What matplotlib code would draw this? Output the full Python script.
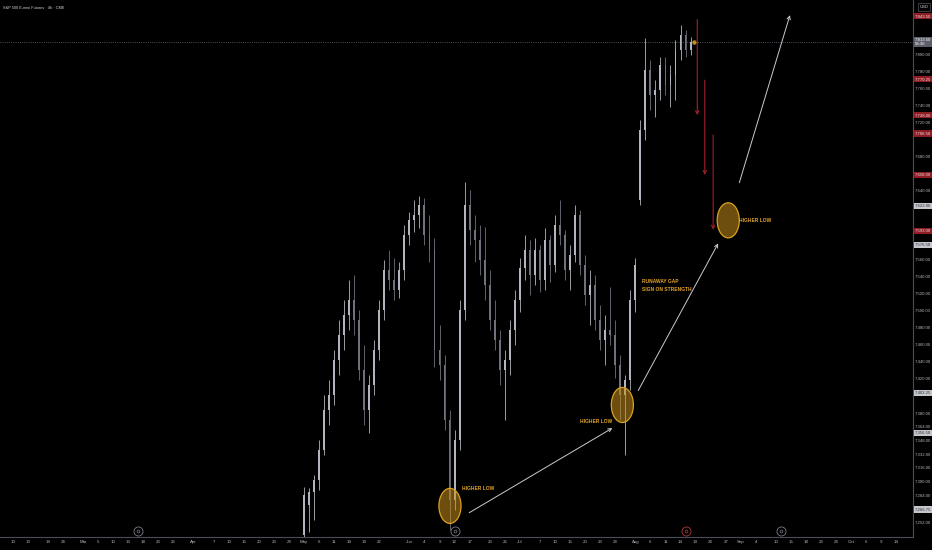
import numpy as np
import pandas as pd
import matplotlib
matplotlib.use('Agg')
import matplotlib.pyplot as plt
from matplotlib.patches import Ellipse
from matplotlib.transforms import blended_transform_factory

# ---------------- data (daily bars) ----------------
origin_date = '2026-03-02'
first_bar_date = '2026-05-01'
opens = [7237.0, 7272.0, 7287.25, 7301.25, 7336.5, 7383.25, 7400.75, 7441.5, 7471.0, 7494.25,
         7512.0, 7488.5, 7430.0, 7383.25, 7412.5, 7453.25, 7500.0, 7547.0, 7535.25, 7523.5,
         7547.0, 7587.75, 7605.5, 7611.25, 7623.0, 7587.75, 7570.25, 7453.25, 7435.75, 7371.5,
         7278.0, 7348.0, 7500.0, 7623.0, 7593.75, 7582.0, 7558.5, 7529.5, 7488.5, 7465.0,
         7430.0, 7441.5, 7476.75, 7512.0, 7549.25, 7570.25, 7541.0, 7570.25, 7535.25, 7582.0,
         7552.75, 7599.5, 7587.75, 7547.0, 7564.5, 7611.25, 7552.75, 7517.75, 7529.5, 7488.5,
         7465.0, 7476.75, 7471.0, 7435.75, 7400.75, 7418.25, 7512.0, 7628.75, 7710.75, 7780.75,
         7751.5, 7757.5, 7786.75, 7763.25, 7775.0, 7804.25, 7821.75, 7804.25]
highs = [7293.0, 7292.0, 7307.0, 7348.0, 7400.75, 7418.25, 7453.25, 7488.5, 7512.0, 7535.25,
         7541.0, 7500.0, 7459.25, 7424.0, 7465.0, 7512.0, 7558.5, 7570.25, 7561.0, 7556.25,
         7599.5, 7614.75, 7628.75, 7633.5, 7631.0, 7611.25, 7584.5, 7482.5, 7447.5, 7383.25,
         7359.75, 7512.0, 7649.75, 7640.5, 7611.25, 7599.5, 7597.25, 7547.0, 7512.0, 7476.75,
         7453.25, 7488.5, 7523.5, 7561.0, 7587.75, 7582.0, 7584.5, 7576.25, 7596.0, 7587.75,
         7611.25, 7628.75, 7593.75, 7576.25, 7623.0, 7617.0, 7564.5, 7547.0, 7541.0, 7506.0,
         7494.25, 7527.0, 7488.5, 7447.5, 7424.0, 7523.5, 7561.0, 7722.25, 7818.25, 7792.5,
         7769.0, 7796.0, 7796.0, 7786.75, 7816.0, 7833.5, 7827.5, 7819.5]
lows = [7225.25, 7240.5, 7254.5, 7289.5, 7330.5, 7365.5, 7389.0, 7424.0, 7453.25, 7476.75,
        7471.0, 7418.25, 7365.5, 7356.25, 7400.75, 7441.5, 7488.5, 7523.5, 7512.0, 7514.25,
        7535.25, 7576.25, 7591.5, 7596.0, 7576.25, 7556.25, 7433.5, 7418.25, 7359.75, 7242.75,
        7266.25, 7336.5, 7488.5, 7576.25, 7556.25, 7541.0, 7512.0, 7476.75, 7453.25, 7412.5,
        7371.5, 7424.0, 7459.25, 7497.75, 7535.25, 7517.75, 7529.5, 7521.25, 7523.5, 7533.0,
        7544.5, 7576.25, 7535.25, 7523.5, 7556.25, 7541.0, 7506.0, 7482.5, 7476.75, 7453.25,
        7435.75, 7459.25, 7420.5, 7371.5, 7330.5, 7406.5, 7497.75, 7623.0, 7699.0, 7734.0,
        7725.75, 7745.75, 7751.5, 7737.5, 7745.75, 7792.5, 7796.0, 7798.5]
closes = [7283.75, 7287.25, 7301.25, 7336.5, 7383.25, 7400.75, 7441.5, 7471.0, 7494.25, 7512.0,
          7488.5, 7430.0, 7383.25, 7412.5, 7453.25, 7500.0, 7547.0, 7535.25, 7523.5, 7547.0,
          7587.75, 7605.5, 7611.25, 7623.0, 7587.75, 7570.25, 7453.25, 7435.75, 7371.5, 7278.0,
          7348.0, 7500.0, 7623.0, 7593.75, 7582.0, 7558.5, 7529.5, 7488.5, 7465.0, 7430.0,
          7441.5, 7476.75, 7512.0, 7549.25, 7570.25, 7541.0, 7570.25, 7535.25, 7582.0, 7552.75,
          7599.5, 7587.75, 7547.0, 7564.5, 7611.25, 7552.75, 7517.75, 7529.5, 7488.5, 7465.0,
          7476.75, 7471.0, 7435.75, 7400.75, 7418.25, 7512.0, 7552.75, 7710.75, 7780.75, 7751.5,
          7757.5, 7786.75, 7763.25, 7775.0, 7804.25, 7821.75, 7804.25, 7813.5]

tick_dates = ['2026-02-10', '2026-02-13', '2026-02-19', '2026-02-24', '2026-03-02', '2026-03-05',
              '2026-03-10', '2026-03-13', '2026-03-18', '2026-03-23', '2026-03-26', '2026-04-01',
              '2026-04-07', '2026-04-10', '2026-04-15', '2026-04-20', '2026-04-23', '2026-04-28',
              '2026-05-01', '2026-05-06', '2026-05-11', '2026-05-14', '2026-05-19', '2026-05-22',
              '2026-06-01', '2026-06-04', '2026-06-09', '2026-06-12', '2026-06-17', '2026-06-23',
              '2026-06-26', '2026-07-01', '2026-07-07', '2026-07-10', '2026-07-15', '2026-07-20',
              '2026-07-23', '2026-07-28', '2026-08-03', '2026-08-06', '2026-08-11', '2026-08-14',
              '2026-08-19', '2026-08-24', '2026-08-27', '2026-09-01', '2026-09-04', '2026-09-10',
              '2026-09-15', '2026-09-18', '2026-09-23', '2026-09-28', '2026-10-01', '2026-10-06',
              '2026-10-09', '2026-10-14']
month_starts = {'2026-03-02': 'Mar', '2026-04-01': 'Apr', '2026-05-01': 'May', '2026-06-01': 'Jun',
                '2026-07-01': 'Jul', '2026-08-03': 'Aug', '2026-09-01': 'Sep', '2026-10-01': 'Oct'}

price_ticks = [7840, 7820, 7800, 7780, 7760, 7740, 7720, 7700, 7680, 7660, 7640, 7620, 7600,
               7580, 7560, 7540, 7520, 7500, 7480, 7460, 7440, 7420, 7400, 7380,
               7364, 7348, 7332, 7316, 7300, 7284, 7268, 7252]
red_levels = [7843.50, 7770.25, 7728.00, 7706.50, 7658.00, 7593.00]
grey_levels = [7622.00, 7576.50, 7403.25, 7356.50, 7266.75]
countdown = '58:30'
event_dates = ['2026-03-17', '2026-06-12', '2026-08-17', '2026-09-11']

# drawings (date/time, price)
ellipse_times = ['2026-06-11 02:00', '2026-07-29 10:00', '2026-08-27 12:00']
ellipse_prices = [7271.0, 7389.0, 7605.0]
hl_text_times = ['2026-06-15 12:00', '2026-07-27 10:00', '2026-08-31 14:00']
hl_text_prices = [7291.0, 7370.0, 7605.0]
arrow_from_times = ['2026-06-16 22:00', '2026-08-03 14:00', '2026-08-31 17:00']
arrow_from_prices = [7263.0, 7406.0, 7649.0]
arrow_to_times = ['2026-07-27 10:00', '2026-08-25 12:00', '2026-09-14 19:00']
arrow_to_prices = [7362.0, 7578.0, 7845.0]
red_arrow_times = ['2026-08-19 08:00', '2026-08-20 20:00', '2026-08-24 12:00']
red_arrow_top = [7840.0, 7769.0, 7705.0]
red_arrow_bottom = [7728.0, 7658.0, 7594.0]
gap_text_time = '2026-08-04 10:00'
gap_text_prices = [7534.0, 7524.0]

# ---------------- helpers ----------------
def bidx(d):
    t = pd.Timestamp(d)
    n = np.busday_count(np.datetime64(origin_date), np.datetime64(t.strftime('%Y-%m-%d')))
    return n + (t.hour + t.minute / 60) / 24

dates = pd.bdate_range(first_bar_date, periods=len(opens))
x = np.array([bidx(d) for d in dates])
o, h, l, c = map(np.array, (opens, highs, lows, closes))

plt.rcParams['font.family'] = ['Liberation Sans', 'DejaVu Sans']

W, H = 932, 550
fig = plt.figure(figsize=(W / 100, H / 100), dpi=100, facecolor='black')
ax = fig.add_axes([0, 13 / H, 913 / W, 537 / H])
ax.set_facecolor('black')
ax.set_xlim(-16.53, 165.3)
ax.set_ylim(7234.6, 7862.7)

up_col, dn_col = '#b2b5be', '#6f727d'
cols = np.where(c >= o, up_col, dn_col)
ax.vlines(x, l, h, colors=cols, lw=0.6, zorder=3)
body = np.maximum(np.abs(c - o), 0.8)
ax.bar(x, body, bottom=np.minimum(o, c), width=0.38, color=cols, linewidth=0, zorder=3)

# current price line and marker
ax.axhline(closes[-1], color='#6a6d78', lw=0.6, ls=(0, (1, 1.6)), zorder=2)
ax.plot([x[-1] + 0.7], [closes[-1]], marker='o', ms=2.8, mfc='#c8961e', mec='#8a6a18', mew=0.5, zorder=5)

# ellipses + labels
gold = '#e3a52a'
tfont = dict(color=gold, fontsize=3.5, fontweight='bold', va='center', zorder=6)
for t, p in zip(ellipse_times, ellipse_prices):
    ax.add_patch(Ellipse((bidx(t), p), 4.4, 41, fc=(0.78, 0.56, 0.1, 0.55), ec='#d9a21f', lw=0.9, zorder=4))
for i, (t, p) in enumerate(zip(hl_text_times, hl_text_prices)):
    ax.text(bidx(t), p, 'HIGHER LOW', ha='right' if i == 1 else 'left', **tfont)
ax.text(bidx(gap_text_time), gap_text_prices[0], 'RUNAWAY GAP', ha='left', **tfont)
ax.text(bidx(gap_text_time), gap_text_prices[1], 'SIGN ON STRENGTH', ha='left', **tfont)

for t0, p0, t1, p1 in zip(arrow_from_times, arrow_from_prices, arrow_to_times, arrow_to_prices):
    ax.annotate('', xy=(bidx(t1), p1), xytext=(bidx(t0), p0),
                arrowprops=dict(arrowstyle='->', color='#c9cbd1', lw=0.7, shrinkA=0, shrinkB=0,
                                mutation_scale=6), zorder=6)
for t, p0, p1 in zip(red_arrow_times, red_arrow_top, red_arrow_bottom):
    ax.annotate('', xy=(bidx(t), p1), xytext=(bidx(t), p0),
                arrowprops=dict(arrowstyle='->', color='#a3202a', lw=0.8, shrinkA=0, shrinkB=0,
                                mutation_scale=6), zorder=6)

# event markers on time axis
blend_xa = blended_transform_factory(ax.transData, ax.transAxes)
for k, d in enumerate(event_dates):
    ec = '#b23a3a' if k == 2 else '#787b86'
    ax.plot([bidx(d)], [0.012], marker='o', ms=6.5, mfc='black', mec=ec, mew=0.6,
            transform=blend_xa, clip_on=False, zorder=7)
    ax.plot([bidx(d)], [0.012], marker='o', ms=2.0, mfc='none', mec=ec, mew=0.5,
            transform=blend_xa, clip_on=False, zorder=7)

# axes
for s in ['top', 'left']:
    ax.spines[s].set_visible(False)
for s in ['bottom', 'right']:
    ax.spines[s].set_color('#4a4d57')
    ax.spines[s].set_linewidth(0.8)

tx = [bidx(d) for d in tick_dates]
tl = [month_starts.get(d, str(int(d[-2:]))) for d in tick_dates]
ax.set_xticks(tx)
ax.set_xticklabels(tl)
ax.tick_params(axis='x', length=0, pad=2.4, labelsize=3.2, colors='#b2b5be')

box_levels = red_levels + grey_levels
shown_ticks = [v for v in price_ticks
               if min(abs(v - b) for b in box_levels) > 7 and abs(v - closes[-1]) > 9]
ax.yaxis.tick_right()
ax.set_yticks(shown_ticks)
ax.set_yticklabels([f'{v:,.2f}' for v in shown_ticks])
ax.tick_params(axis='y', length=0, pad=1.4, labelsize=3.1, colors='#b2b5be')

blend_ay = blended_transform_factory(ax.transAxes, ax.transData)
xl = 1.0 + 2 / 913
for v in red_levels:
    ax.text(xl, v, f'{v:,.2f}', transform=blend_ay, ha='left', va='center', fontsize=3.1,
            color='#f2dede', clip_on=False, zorder=20,
            bbox=dict(boxstyle='square,pad=0.25', fc='#8e1c24', ec='none'))
for v in grey_levels:
    ax.text(xl, v, f'{v:,.2f}', transform=blend_ay, ha='left', va='center', fontsize=3.1,
            color='#2a2e39', clip_on=False, zorder=20,
            bbox=dict(boxstyle='square,pad=0.25', fc='#c5c7cc', ec='none'))
ax.text(xl, closes[-1], f'{closes[-1]:,.2f}\n{countdown}', transform=blend_ay, ha='left', va='center',
        fontsize=3.1, color='#ffffff', clip_on=False, zorder=20, linespacing=1.1,
        bbox=dict(boxstyle='square,pad=0.25', fc='#5d606b', ec='none'))

fig.text(3 / W, 1 - 8 / H, 'S&P 500 E-mini Futures · 4h · CME', fontsize=2.8, color='#d1d4dc',
         ha='left', va='center')
fig.text(924 / W, 1 - 7 / H, 'USD', fontsize=3.0, color='#d1d4dc', ha='center', va='center',
         bbox=dict(boxstyle='square,pad=0.4', fc='black', ec='#50535e', lw=0.5))

fig.savefig('out.png', dpi=100, facecolor='black')
